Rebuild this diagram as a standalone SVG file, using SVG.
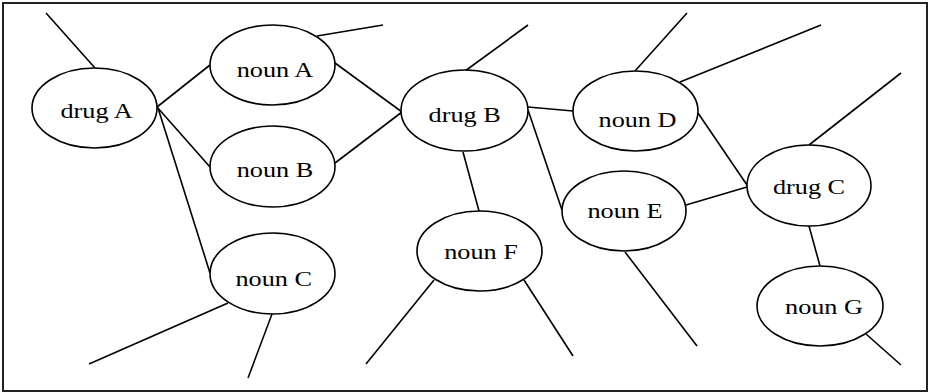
<svg xmlns="http://www.w3.org/2000/svg" width="929" height="392" viewBox="0 0 929 392">
  <style>
    .frame { fill: #ffffff; stroke: #222222; stroke-width: 2; }
    .node ellipse { fill: #ffffff; stroke: #000000; stroke-width: 1.6; }
    .node text { font-family: "Liberation Serif", "Times New Roman", serif; font-size: 21px; fill: #000000; text-anchor: middle; }
    #connectors line { stroke: #000000; stroke-width: 1.6; stroke-linecap: butt; }
  </style>

  <!-- outer frame -->
  <rect class="frame" x="3" y="3" width="924" height="388"/>

  <!-- links between terms, plus loose ends leading out of the view -->
  <g id="connectors">
    <line x1="46" y1="13" x2="95" y2="68"/>
    <line x1="157" y1="107" x2="210" y2="65"/>
    <line x1="157" y1="107" x2="210" y2="167"/>
    <line x1="158" y1="108" x2="210" y2="273"/>
    <line x1="317" y1="36" x2="383" y2="25"/>
    <line x1="335" y1="63" x2="402" y2="112"/>
    <line x1="335" y1="163" x2="402" y2="112"/>
    <line x1="465" y1="71" x2="528" y2="25"/>
    <line x1="528" y1="107" x2="573" y2="111"/>
    <line x1="528" y1="110" x2="562" y2="210"/>
    <line x1="463" y1="152" x2="479" y2="211"/>
    <line x1="635" y1="71" x2="687" y2="13"/>
    <line x1="680" y1="82" x2="821" y2="25"/>
    <line x1="698" y1="113" x2="747" y2="185"/>
    <line x1="809" y1="145" x2="901" y2="73"/>
    <line x1="686" y1="205" x2="747" y2="187"/>
    <line x1="809" y1="226" x2="820" y2="266"/>
    <line x1="625" y1="252" x2="697" y2="346"/>
    <line x1="866" y1="334" x2="901" y2="365"/>
    <line x1="434" y1="280" x2="366" y2="364"/>
    <line x1="524" y1="280" x2="573" y2="356"/>
    <line x1="228" y1="303" x2="89" y2="364"/>
    <line x1="272" y1="314" x2="248" y2="378"/>
  </g>

  <!-- labels are set in a widened serif: scale(1.25,1) about the baseline centre -->
  <g id="drugA" class="node">
    <ellipse cx="94.5" cy="108" rx="62.5" ry="40"/>
    <text transform="translate(96.5 118) scale(1.25 1)">drug A</text>
  </g>
  <g id="nounA" class="node">
    <ellipse cx="272.5" cy="65" rx="62.5" ry="40"/>
    <text transform="translate(275 76.7) scale(1.25 1)">noun A</text>
  </g>
  <g id="nounB" class="node">
    <ellipse cx="272.5" cy="166.5" rx="62.5" ry="40.5"/>
    <text transform="translate(275 176.7) scale(1.25 1)">noun B</text>
  </g>
  <g id="nounC" class="node">
    <ellipse cx="272.5" cy="273.5" rx="62.5" ry="40.5"/>
    <text transform="translate(273.7 286) scale(1.25 1)">noun C</text>
  </g>
  <g id="drugB" class="node">
    <ellipse cx="464.5" cy="110.5" rx="63.5" ry="40.5"/>
    <text transform="translate(464.7 121.7) scale(1.25 1)">drug B</text>
  </g>
  <g id="nounD" class="node">
    <ellipse cx="635.5" cy="111" rx="62.5" ry="40"/>
    <text transform="translate(637.5 127) scale(1.25 1)">noun D</text>
  </g>
  <g id="nounE" class="node">
    <ellipse cx="624" cy="211" rx="62" ry="40"/>
    <text transform="translate(625 218) scale(1.25 1)">noun E</text>
  </g>
  <g id="nounF" class="node">
    <ellipse cx="479.5" cy="251" rx="62.5" ry="40"/>
    <text transform="translate(481 259.3) scale(1.25 1)">noun F</text>
  </g>
  <g id="drugC" class="node">
    <ellipse cx="809" cy="185.5" rx="62" ry="40.5"/>
    <text transform="translate(809 194) scale(1.25 1)">drug C</text>
  </g>
  <g id="nounG" class="node">
    <ellipse cx="820" cy="306" rx="63" ry="40"/>
    <text transform="translate(824 314) scale(1.25 1)">noun G</text>
  </g>
</svg>
